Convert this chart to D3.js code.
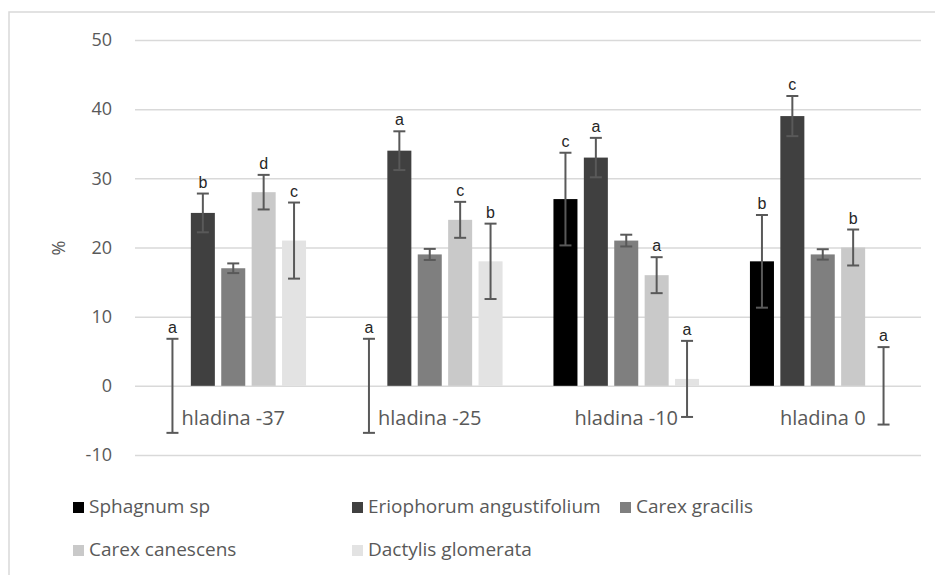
<!DOCTYPE html>
<html>
<head>
<meta charset="utf-8">
<script src="https://cdn.jsdelivr.net/npm/d3@7"></script>
<style>
  body { margin: 0; background: #fff; }
  text { font-family: "Open Sans", "Noto Sans", sans-serif; }
</style>
</head>
<body>
<div id="chart"></div>
<script>
// the data
let categories = ["hladina -37", "hladina -25", "hladina -10", "hladina 0"];
let seriesNames = ["Sphagnum sp", "Eriophorum angustifolium", "Carex gracilis", "Carex canescens", "Dactylis glomerata"];
let seriesColors = ["#000000", "#404040", "#7f7f7f", "#c9c9c9", "#e3e3e3"];

let sphagnum   = [0, 0, 27, 18];
let eriophorum = [25, 34, 33, 39];
let gracilis   = [17, 19, 21, 19];
let canescens  = [28, 24, 16, 20];
let dactylis   = [21, 18, 1, 0];

let sphagnumErr   = [6.8, 6.8, 6.7, 6.7];
let eriophorumErr = [2.8, 2.8, 2.85, 2.9];
let gracilisErr   = [0.7, 0.8, 0.85, 0.75];
let canescensErr  = [2.5, 2.6, 2.6, 2.6];
let dactylisErr   = [5.5, 5.45, 5.5, 5.6];

let sphagnumSig   = ["a", "a", "c", "b"];
let eriophorumSig = ["b", "a", "a", "c"];
let gracilisSig   = ["", "", "", ""];
let canescensSig  = ["d", "c", "a", "b"];
let dactylisSig   = ["c", "b", "a", "a"];

let yTicks = [-10, 0, 10, 20, 30, 40, 50];

let values = [sphagnum, eriophorum, gracilis, canescens, dactylis];
let errors = [sphagnumErr, eriophorumErr, gracilisErr, canescensErr, dactylisErr];
let sigs = [sphagnumSig, eriophorumSig, gracilisSig, canescensSig, dactylisSig];

// flatten into one row per bar
let rows = [];
categories.forEach(function (c, ci) {
    seriesNames.forEach(function (s, si) {
        rows.push({ cat: c, series: s, value: values[si][ci], err: errors[si][ci], sig: sigs[si][ci], color: seriesColors[si] });
    });
});

let W = 935, H = 575;
let svg = d3.select("#chart").append("svg")
    .attr("width", W)
    .attr("height", H);

svg.append("rect").attr("width", W).attr("height", H).attr("fill", "#fff");

// chart frame (runs off the right and bottom)
svg.append("rect")
    .attr("x", 9).attr("y", 12)
    .attr("width", W + 20).attr("height", H + 20)
    .attr("fill", "none")
    .attr("stroke", "#d9d9d9")
    .attr("stroke-width", 1.5);

let plotLeft = 135, plotRight = 921;

let y = d3.scaleLinear().domain([-10, 50]).range([455, 40]);
let x0 = d3.scaleBand().domain(categories).range([plotLeft, plotRight])
    .paddingInner(0.259).paddingOuter(0.1295);
let x1 = d3.scaleBand().domain(seriesNames).range([0, x0.bandwidth()])
    .paddingInner(0.21);

// gridlines + tick labels
let yAxis = d3.axisLeft(y).tickValues(yTicks)
    .tickFormat(function (d) { return String(d); })
    .tickSize(-(plotRight - plotLeft)).tickPadding(23);
let yg = svg.append("g")
    .attr("transform", "translate(" + plotLeft + ",0)")
    .call(yAxis);
yg.select(".domain").remove();
yg.selectAll(".tick line").attr("stroke", "#d9d9d9").attr("stroke-width", 1.5);
yg.selectAll(".tick text")
    .attr("fill", "#595959")
    .style("font-size", "18px")
    .style("font-family", "'Open Sans', sans-serif");

// y title
svg.append("text")
    .attr("transform", "translate(65,248) rotate(-90)")
    .attr("text-anchor", "middle")
    .attr("fill", "#595959")
    .style("font-size", "18px")
    .text("%");

// bars
svg.append("g").selectAll("rect")
    .data(rows)
    .join("rect")
    .attr("x", function (d) { return x0(d.cat) + x1(d.series); })
    .attr("y", function (d) { return y(Math.max(0, d.value)); })
    .attr("width", x1.bandwidth())
    .attr("height", function (d) { return Math.abs(y(d.value) - y(0)); })
    .attr("fill", function (d) { return d.color; });

// category labels
svg.append("g").selectAll("text")
    .data(categories)
    .join("text")
    .attr("x", function (d) { return x0(d) + x0.bandwidth() / 2; })
    .attr("y", 425)
    .attr("text-anchor", "middle")
    .attr("fill", "#595959")
    .style("font-size", "20px")
    .text(function (d) { return d; });

// error bars
let cx = function (d) { return x0(d.cat) + x1(d.series) + x1.bandwidth() / 2; };
let eb = svg.append("g").attr("stroke", "#595959").attr("stroke-width", 2);
eb.selectAll("line.v").data(rows).join("line").attr("class", "v")
    .attr("x1", cx).attr("x2", cx)
    .attr("y1", function (d) { return y(d.value + d.err); })
    .attr("y2", function (d) { return y(d.value - d.err); });
eb.selectAll("line.t").data(rows).join("line").attr("class", "t")
    .attr("x1", function (d) { return cx(d) - 6; }).attr("x2", function (d) { return cx(d) + 6; })
    .attr("y1", function (d) { return y(d.value + d.err); })
    .attr("y2", function (d) { return y(d.value + d.err); });
eb.selectAll("line.b").data(rows).join("line").attr("class", "b")
    .attr("x1", function (d) { return cx(d) - 6; }).attr("x2", function (d) { return cx(d) + 6; })
    .attr("y1", function (d) { return y(d.value - d.err); })
    .attr("y2", function (d) { return y(d.value - d.err); });

// significance letters
svg.append("g").selectAll("text")
    .data(rows.filter(function (d) { return d.sig !== ""; }))
    .join("text")
    .attr("x", cx)
    .attr("y", function (d) { return y(d.value + d.err) - 6; })
    .attr("text-anchor", "middle")
    .attr("fill", "#262626")
    .style("font-family", "'Liberation Sans', Arial, sans-serif")
    .style("font-size", "16px")
    .text(function (d) { return d.sig; });

// legend
let legCols = [73, 352, 620], legRows = [502, 545];
let leg = svg.append("g").selectAll("g")
    .data(seriesNames)
    .join("g")
    .attr("transform", function (d, i) {
        let col = i < 3 ? i : i - 3, row = i < 3 ? 0 : 1;
        return "translate(" + legCols[col] + "," + legRows[row] + ")";
    });
leg.append("rect")
    .attr("width", 11).attr("height", 11)
    .attr("fill", function (d, i) { return seriesColors[i]; });
leg.append("text")
    .attr("x", 16).attr("y", 11)
    .attr("fill", "#595959")
    .style("font-size", "19px")
    .text(function (d) { return d; });
</script>
</body>
</html>
